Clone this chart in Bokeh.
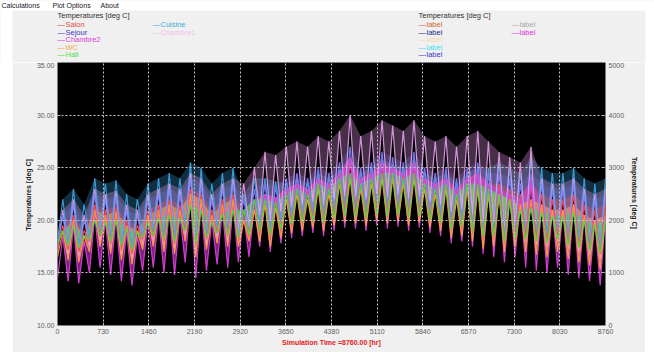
import numpy as np
from bokeh.plotting import figure
from bokeh.layouts import column, row
from bokeh.models import LinearAxis, Range1d, FixedTicker, PrintfTickFormatter, Spacer
from bokeh.core.properties import value
from bokeh.embed import file_html
from bokeh.resources import INLINE

# ---------------- data (weekly low/high pairs, deg C) ----------------
x_ticks = [0, 730, 1460, 2190, 2920, 3650, 4380, 5110, 5840, 6570, 7300, 8030, 8760]
y_ticks = [10, 15, 20, 25, 30, 35]
right_ticks = [0, 1000, 2000, 3000, 4000, 5000]

salon = [
    17.5, 19.5, 17.2, 20.5, 17.0, 19.0, 18.0, 21.5, 18.5, 21.0, 17.8, 21.3, 17.2, 20.0, 16.8, 19.5,
    18.2, 21.0, 18.5, 21.5, 18.0, 22.0, 17.8, 21.5, 19.0, 23.0, 17.5, 22.5, 18.2, 21.0, 18.8, 22.0,
    18.5, 22.5, 18.0, 21.0, 18.5, 22.0, 19.0, 22.5, 18.5, 22.2, 19.3, 23.0, 19.8, 23.5, 20.0, 23.0,
    20.3, 24.0, 20.0, 23.5, 20.5, 24.5, 20.8, 26.0, 20.7, 24.0, 20.5, 24.5, 21.0, 25.5, 20.7, 25.0,
    20.9, 24.5, 20.5, 25.5, 20.8, 24.0, 20.3, 23.5, 20.0, 24.0, 19.3, 23.0, 19.5, 24.0, 19.0, 24.5,
    18.3, 23.5, 18.5, 23.5, 18.0, 23.0, 18.5, 22.5, 18.5, 23.5, 18.2, 22.5, 18.0, 22.0, 18.5, 22.0,
    17.8, 22.5, 17.5, 21.5, 17.2, 21.0, 16.8, 21.5,
]
sejour = [
    17.5, 20.5, 17.2, 21.5, 17.0, 20.0, 18.0, 22.5, 18.5, 22.0, 17.8, 22.3, 17.2, 21.0, 16.8, 20.5,
    18.2, 22.0, 18.5, 22.5, 18.0, 23.0, 17.8, 22.5, 19.0, 24.0, 17.5, 23.5, 18.2, 22.0, 18.8, 23.0,
    18.5, 23.5, 18.5, 22.0, 19.0, 23.0, 19.5, 23.5, 19.0, 23.2, 19.8, 24.0, 20.3, 24.5, 20.5, 24.0,
    20.8, 25.0, 20.5, 24.5, 21.0, 25.5, 21.3, 27.0, 21.2, 25.0, 21.0, 25.5, 21.5, 26.5, 21.2, 26.0,
    21.4, 25.5, 21.0, 26.5, 21.3, 25.0, 20.8, 24.5, 20.5, 25.0, 19.8, 24.0, 20.0, 25.0, 19.5, 25.5,
    18.8, 24.5, 19.0, 24.5, 18.5, 24.0, 19.0, 23.5, 18.5, 24.5, 18.2, 23.5, 18.0, 23.0, 18.5, 23.0,
    17.8, 23.5, 17.5, 22.5, 17.2, 22.0, 16.8, 22.5,
]
chambre2 = [
    14.5, 18.5, 14.2, 19.5, 14.0, 18.0, 15.0, 20.5, 15.5, 20.0, 14.8, 20.3, 14.2, 19.0, 13.8, 18.5,
    15.2, 20.0, 15.5, 20.5, 15.0, 21.0, 14.8, 20.5, 16.0, 22.0, 14.5, 21.5, 15.2, 20.0, 15.8, 21.0,
    15.5, 21.5, 16.0, 20.5, 16.5, 21.5, 17.5, 22.5, 17.0, 22.2, 17.8, 23.0, 18.3, 23.5, 18.5, 23.0,
    18.8, 24.0, 18.5, 23.5, 19.0, 24.5, 19.3, 26.0, 19.2, 24.0, 19.0, 24.5, 19.5, 25.5, 19.2, 25.0,
    19.4, 24.5, 19.0, 25.5, 19.3, 24.0, 18.8, 23.5, 18.5, 24.0, 17.8, 23.0, 18.0, 24.0, 17.5, 24.5,
    16.8, 23.5, 16.5, 23.0, 16.0, 22.5, 16.5, 22.0, 15.5, 24.0, 15.2, 21.5, 15.0, 21.0, 15.5, 21.0,
    14.8, 21.5, 14.5, 20.5, 14.2, 20.0, 13.8, 20.5,
]
wc = [
    16.5, 19.0, 16.2, 20.0, 16.0, 18.5, 17.0, 21.0, 17.5, 20.5, 16.8, 20.8, 16.2, 19.5, 15.8, 19.0,
    17.2, 20.5, 17.5, 21.0, 17.0, 21.5, 16.8, 21.0, 18.0, 22.5, 16.5, 22.0, 17.2, 20.5, 17.8, 21.5,
    17.5, 22.0, 17.5, 20.0, 18.0, 21.0, 18.0, 21.5, 17.5, 21.2, 18.3, 22.0, 18.8, 22.5, 19.0, 22.0,
    19.3, 23.0, 19.0, 22.5, 19.5, 23.5, 19.8, 24.0, 19.7, 23.0, 19.5, 23.5, 20.0, 24.0, 19.7, 24.0,
    19.9, 23.5, 19.5, 24.0, 19.8, 23.0, 19.3, 22.5, 19.0, 23.0, 18.3, 22.0, 18.5, 23.0, 18.0, 23.0,
    17.3, 22.5, 17.5, 22.5, 17.0, 22.0, 17.5, 21.5, 17.0, 22.0, 16.7, 21.5, 16.5, 21.0, 17.0, 21.0,
    16.3, 21.5, 16.0, 20.5, 15.7, 20.0, 15.3, 20.5,
]
hall = [
    17.8, 19.0, 17.6, 19.5, 17.4, 18.5, 18.2, 20.0, 18.6, 19.8, 18.0, 20.0, 17.6, 19.2, 17.2, 18.8,
    18.4, 19.8, 18.6, 20.2, 18.2, 20.5, 18.0, 20.2, 19.0, 21.5, 17.8, 21.0, 18.4, 19.8, 18.8, 20.6,
    18.6, 21.0, 18.3, 21.0, 18.6, 22.0, 19.0, 22.0, 18.6, 21.7, 19.2, 22.5, 19.6, 23.0, 19.8, 22.5,
    20.0, 23.5, 19.8, 23.0, 20.2, 24.0, 20.4, 24.5, 20.3, 23.5, 20.2, 24.0, 20.6, 24.5, 20.4, 24.5,
    20.5, 24.0, 20.2, 24.5, 20.4, 23.5, 20.0, 23.0, 19.8, 23.5, 19.2, 22.5, 19.4, 23.5, 19.0, 23.5,
    18.5, 23.0, 18.5, 22.5, 18.0, 22.0, 18.3, 21.0, 18.2, 21.2, 18.0, 20.8, 17.8, 20.4, 18.2, 20.4,
    17.6, 20.8, 17.4, 20.0, 17.2, 19.6, 16.9, 20.0,
]
cuisine = [
    18.0, 22.0, 17.7, 23.0, 17.5, 21.5, 18.5, 24.0, 19.0, 23.5, 18.3, 23.8, 17.7, 22.5, 17.3, 22.0,
    18.7, 23.5, 19.0, 24.0, 18.5, 24.5, 18.3, 24.0, 19.5, 25.5, 18.0, 25.0, 18.7, 23.5, 19.3, 24.5,
    19.0, 25.0, 19.0, 22.5, 19.5, 24.0, 20.0, 24.0, 19.5, 23.7, 20.3, 23.5, 20.8, 24.0, 21.0, 23.5,
    21.3, 24.5, 21.0, 24.0, 21.5, 24.8, 21.8, 26.0, 21.7, 24.5, 21.5, 25.0, 22.0, 25.8, 21.7, 25.3,
    21.9, 25.0, 21.5, 25.8, 21.8, 24.5, 21.3, 24.0, 21.0, 24.5, 20.3, 23.5, 20.5, 24.5, 20.0, 25.0,
    19.3, 25.0, 19.5, 25.5, 19.0, 25.0, 19.5, 24.5, 19.0, 26.0, 18.7, 25.0, 18.5, 24.5, 19.0, 24.5,
    18.3, 25.0, 18.0, 24.0, 17.7, 23.5, 17.3, 24.0,
]
chambre1 = [
    17.0, 21.0, 16.7, 22.0, 16.5, 20.5, 17.5, 23.0, 18.0, 22.5, 17.3, 22.8, 16.7, 21.5, 16.3, 21.0,
    17.7, 22.5, 18.0, 23.0, 17.5, 23.5, 17.3, 23.0, 18.5, 24.5, 17.0, 24.0, 17.7, 22.5, 18.3, 23.5,
    18.0, 24.0, 18.8, 23.5, 19.3, 25.0, 20.5, 26.5, 20.0, 26.2, 20.8, 27.0, 21.3, 27.5, 21.5, 27.0,
    21.8, 28.0, 21.5, 27.5, 22.0, 28.5, 22.3, 30.0, 22.2, 28.0, 22.0, 28.5, 22.5, 29.5, 22.2, 29.0,
    22.4, 28.5, 22.0, 29.5, 22.3, 28.0, 21.8, 27.5, 21.5, 28.0, 20.8, 27.0, 21.0, 28.0, 20.5, 28.5,
    19.8, 27.5, 19.3, 26.5, 18.8, 26.0, 19.3, 25.5, 18.0, 27.0, 17.7, 24.0, 17.5, 23.5, 18.0, 23.5,
    17.3, 24.0, 17.0, 23.0, 16.7, 22.5, 16.3, 23.0,
]

series = {
    "Salon": salon, "Sejour": sejour, "Chambre2": chambre2, "WC": wc,
    "Hall": hall, "Cuisine": cuisine, "Chambre1": chambre1,
}
line_colors = {
    "Salon": "#FF5050", "Sejour": "#8080FF", "Chambre2": "#E040E0", "WC": "#FFA040",
    "Hall": "#40E040", "Cuisine": "#40A8E8", "Chambre1": "#E8A0F0",
}
fill_alphas = {
    "Salon": 0.35, "Sejour": 0.22, "Chambre2": 0.55, "WC": 0.6,
    "Hall": 0.65, "Cuisine": 0.28, "Chambre1": 0.3,
}
legend_colors = {
    "Salon": "#E04848", "Sejour": "#3838C8", "Chambre2": "#D840D8", "WC": "#F0A848",
    "Hall": "#48E048", "Cuisine": "#40A8D8", "Chambre1": "#F0C0F0",
}
draw_order = ["Cuisine", "Chambre1", "Sejour", "Salon", "Chambre2", "WC", "Hall"]

left_col1 = ["Salon", "Sejour", "Chambre2", "WC", "Hall"]
left_col2 = ["Cuisine", "Chambre1"]
right_col1 = [("label", "#C86830"), ("label", "#282888"), ("label", "#F8D8B0"),
              ("label", "#40E0F0"), ("label", "#3838D0")]
right_col2 = [("label", "#A8A8A8"), ("label", "#E030E0")]
menu_items = [("Calculations", 1), ("Plot Options", 52), ("About", 100)]

FONT = "Liberation Sans"
W = 654
TOP_H = 62
MAIN_H = 352 - TOP_H
LEFT_PAD, RIGHT_PAD = 12, 9          # white window margins beside the grey panel

# ---------------- header strip (menu + legends), page-pixel coordinates ----------------
top = figure(width=W, height=TOP_H, x_range=Range1d(0, W), y_range=Range1d(TOP_H, 0),
             output_backend="svg", toolbar_location=None,
             x_axis_location=None, y_axis_location=None,
             min_border=0, background_fill_color="#F0F0F0", border_fill_color="#F0F0F0",
             outline_line_color=None)
top.grid.visible = False
# white menu bar and white side margins of the window
top.quad(left=[0, 0, W - RIGHT_PAD], right=[W, LEFT_PAD, W], top=[0, 0, 0],
         bottom=[10, TOP_H, TOP_H], fill_color="white", line_color=None)


def add_text(fig, px, py, text, color, size="7.5px", style="normal"):
    fig.text(x=[px], y=[py], text=[text], text_color=color, text_font=value(FONT),
             text_font_size=size, text_font_style=style,
             text_baseline="middle", text_align="left")


for label, xpos in menu_items:
    add_text(top, xpos, 5, label, "#202020", size="7px")

row_y = [24, 31.5, 39, 46.5, 54]
add_text(top, 57, 15, "Temperatures  [deg C]", "#303030", size="7.5px")
for i, name in enumerate(left_col1):
    add_text(top, 57, row_y[i], "\u2014", legend_colors[name])
    add_text(top, 65, row_y[i], name, legend_colors[name])
for i, name in enumerate(left_col2):
    add_text(top, 152, row_y[i], "\u2014", legend_colors[name])
    add_text(top, 160, row_y[i], name, legend_colors[name])

add_text(top, 418, 15, "Temperatures  [deg C]", "#303030", size="7.5px")
for i, (name, col) in enumerate(right_col1):
    add_text(top, 418, row_y[i], "\u2014", col)
    add_text(top, 426, row_y[i], name, col)
for i, (name, col) in enumerate(right_col2):
    add_text(top, 511, row_y[i], "\u2014", col)
    add_text(top, 519, row_y[i], name, col)

# ---------------- main plot ----------------
p = figure(width=W - LEFT_PAD - RIGHT_PAD, height=MAIN_H,
           x_range=Range1d(0, 8760), y_range=Range1d(10, 35),
           output_backend="svg", toolbar_location=None,
           min_border_left=57 - LEFT_PAD, min_border_right=W - RIGHT_PAD - 605,
           min_border_top=0, min_border_bottom=27,
           background_fill_color="black", border_fill_color="#F0F0F0",
           outline_line_color=None)

# do not let the layout align the header frame with the plot frame
for fig in (top, p):
    try:
        fig.frame_align = False
    except AttributeError:
        pass

hours = np.linspace(0, 8760, len(salon))
for name in draw_order:
    vals = np.asarray(series[name])
    # filled "flames": region between the weekly zig-zag and the line through its peaks
    px = list(hours) + list(hours[1::2][::-1])
    py = list(vals) + list(vals[1::2][::-1])
    p.patch(px, py, fill_color=line_colors[name], fill_alpha=fill_alphas[name], line_color=None)
for name in draw_order:
    p.line(hours, series[name], line_color=line_colors[name], line_width=1.2, line_alpha=0.9)

xa = p.xaxis[0]
xa.ticker = FixedTicker(ticks=x_ticks)
xa.axis_label = "Simulation Time =8760.00 [hr]"
xa.axis_label_standoff = 2

ya = p.yaxis[0]
ya.ticker = FixedTicker(ticks=y_ticks)
ya.formatter = PrintfTickFormatter(format="%.2f")
ya.axis_label = "Temperatures  [deg C]"
ya.axis_label_standoff = 2

p.extra_y_ranges = {"right": Range1d(0, 5000)}
ra = LinearAxis(y_range_name="right", ticker=FixedTicker(ticks=right_ticks),
                axis_label="Temperatures  [deg C]")
ra.axis_label_standoff = 4
p.add_layout(ra, "right")

for ax in [xa, ya, ra]:
    ax.major_label_text_font = FONT
    ax.axis_label_text_font = FONT
    ax.axis_label_text_font_style = "bold"
    ax.axis_label_text_font_size = "7px"
    ax.major_label_text_font_size = "7px"
    ax.major_label_text_color = "#606060"
    ax.axis_label_text_color = "#202020"
    ax.major_label_standoff = 3
    ax.major_tick_out = 0
    ax.major_tick_in = 3
    ax.major_tick_line_color = "#909090"
    ax.minor_tick_line_color = None
    ax.axis_line_color = None
xa.axis_label_text_color = "#E02020"

p.xgrid.ticker = FixedTicker(ticks=x_ticks)
p.ygrid.ticker = FixedTicker(ticks=y_ticks)
for g in [p.xgrid, p.ygrid]:
    g.grid_line_color = "#C8C8C8"
    g.grid_line_dash = "2 2"
    g.grid_line_width = 1
    g.level = "overlay"

body = row(Spacer(width=LEFT_PAD, height=MAIN_H), p, Spacer(width=RIGHT_PAD, height=MAIN_H),
           spacing=0)
layout = column(top, body, spacing=0)
open("out.html", "w").write(file_html(layout, INLINE))
